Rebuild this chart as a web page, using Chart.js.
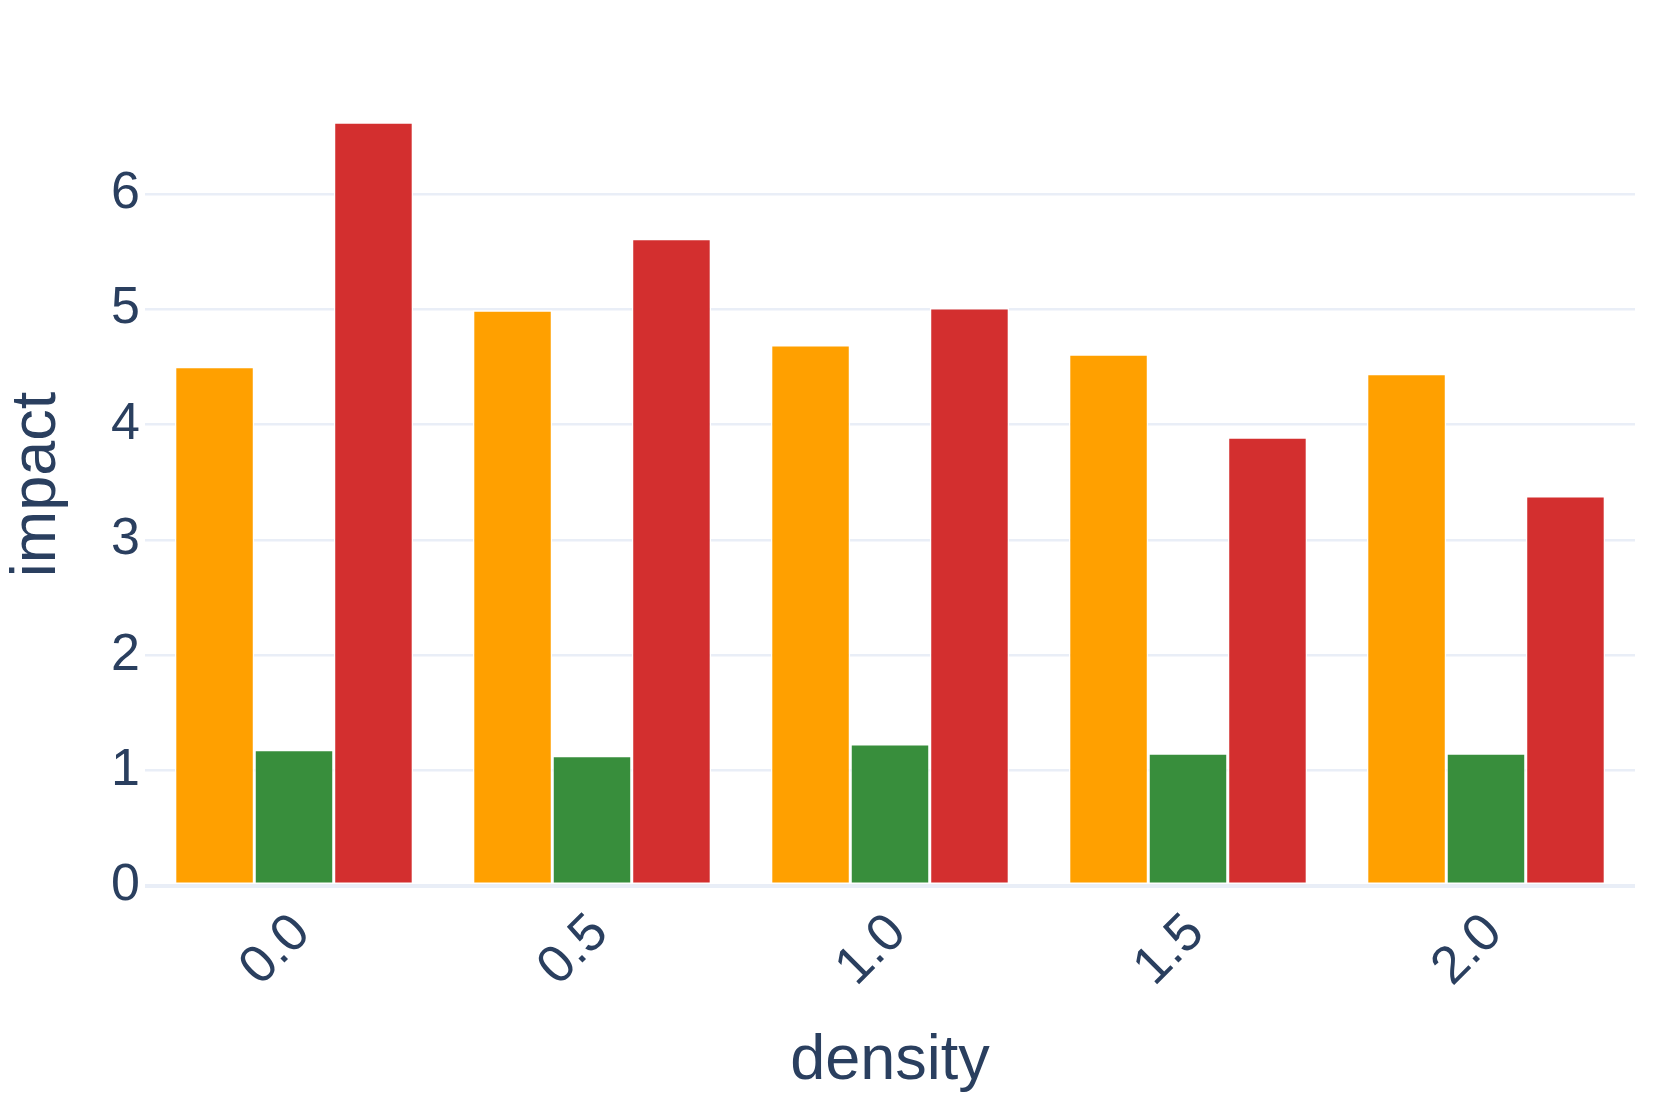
<!DOCTYPE html>
<html>
<head>
<meta charset="utf-8">
<script src="https://cdn.jsdelivr.net/npm/chart.js@4/dist/chart.umd.min.js"></script>
<style>
  html, body { margin: 0; padding: 0; background: #fff; }
  #wrap { width: 1661px; height: 1107px; }
</style>
</head>
<body>
<div id="wrap"><canvas id="chart"></canvas></div>
<script>
const densities = ['0.0', '0.5', '1.0', '1.5', '2.0'];
const seriesA = [4.50, 4.99, 4.69, 4.61, 4.44];
const seriesB = [1.18, 1.13, 1.23, 1.15, 1.15];
const seriesC = [6.62, 5.61, 5.01, 3.89, 3.38];
const yTicks = [0, 1, 2, 3, 4, 5, 6];

const ink = '#2a3f5f';
const gridColor = '#e9eef7';
const font = 'Liberation Sans, Arial, sans-serif';

const bar = (label, data, color) => ({
    label,
    data,
    backgroundColor: color,
    borderColor: '#ffffff',
    borderWidth: 1.5,
    borderSkipped: false,
    categoryPercentage: 0.8,
    barPercentage: 1.0,
});

new Chart(document.getElementById('chart'), {
    type: 'bar',
    data: {
        labels: densities,
        datasets: [
            bar('A', seriesA, '#ffa000'),
            bar('B', seriesB, '#388e3c'),
            bar('C', seriesC, '#d32f2f'),
        ],
    },
    options: {
        responsive: true,
        maintainAspectRatio: false,
        animation: false,
        layout: { padding: { top: 83, right: 26, left: 0, bottom: 0 } },
        plugins: { legend: { display: false }, tooltip: { enabled: false } },
        scales: {
            x: {
                grid: { display: false, drawTicks: false },
                border: { display: false },
                ticks: {
                    color: ink,
                    font: { family: font, size: 53 },
                    minRotation: 45,
                    maxRotation: 45,
                    padding: 16,
                    labelOffset: 8,
                },
                title: {
                    display: true,
                    text: 'density',
                    color: ink,
                    font: { family: font, size: 63 },
                    padding: { top: 0, bottom: 8 },
                },
                afterFit: (s) => { s.height = 221; },
            },
            y: {
                min: 0,
                max: 6.96,
                afterBuildTicks: (s) => { s.ticks = yTicks.map((v) => ({ value: v })); },
                grid: {
                    color: gridColor,
                    lineWidth: (c) => (c.tick && c.tick.value === 0 ? 4 : 2.5),
                    drawTicks: false,
                },
                border: { display: false },
                ticks: {
                    color: ink,
                    font: { family: font, size: 52 },
                    padding: 5,
                },
                title: {
                    display: true,
                    text: 'impact',
                    color: ink,
                    font: { family: font, size: 63 },
                    padding: { top: 0, bottom: 0 },
                },
                afterFit: (s) => { s.width = 145; },
            },
        },
    },
});
</script>
</body>
</html>
